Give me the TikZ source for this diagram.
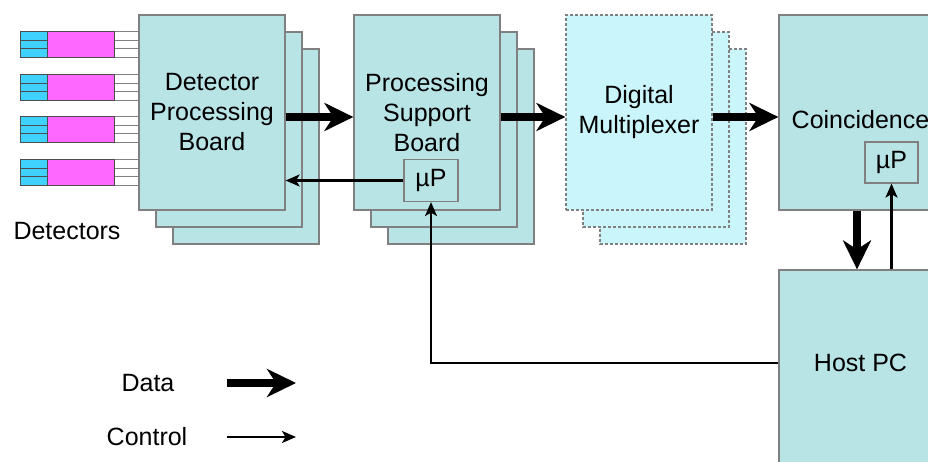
\documentclass[tikz,border=0pt]{standalone}
\usepackage{fontspec}
\setmainfont{Liberation Sans}
\usetikzlibrary{arrows.meta}

\definecolor{boardfill}{RGB}{185,228,230}
\definecolor{muxfill}{RGB}{202,245,250}
\definecolor{edgegray}{RGB}{128,128,128}
\definecolor{scintblue}{RGB}{64,210,255}
\definecolor{pmtpink}{RGB}{255,104,255}

\tikzset{
  boardshape/.style={draw=edgegray, line width=1.2pt, fill=boardfill},
  muxshape/.style={draw=edgegray, line width=1.2pt, fill=muxfill, dash pattern=on 3pt off 2pt},
  board/.style={boardshape, minimum width=146pt, minimum height=195pt, align=center, inner sep=0pt},
  muxboard/.style={muxshape, minimum width=146pt, minimum height=195pt, align=center, inner sep=0pt},
  upbox/.style={draw=edgegray, line width=1.2pt, fill=boardfill, minimum width=54pt, minimum height=42pt, inner sep=0pt},
  data/.style={line width=7.5pt, -{Stealth[length=29pt,width=28pt,inset=9pt]}},
  ctrl/.style={line width=2.2pt, -{Stealth[length=14pt,width=12pt,inset=3.5pt]}},
}

\begin{document}
\begin{tikzpicture}[x=1pt, y=-1pt, font=\fontsize{25}{30}\selectfont]
  \useasboundingbox (0,0) rectangle (928,462);
  \clip (0,0) rectangle (928,462);

  % detectors
  \foreach \t in {31,74,116,159} {
    \draw[edgegray, line width=0.9pt, fill=white] (114,\t) rectangle (139,\t+26);
    \draw[edgegray, line width=0.9pt] (114,\t+9) -- (139,\t+9) (114,\t+17) -- (139,\t+17);
    \draw[edgegray!60!black, line width=0.9pt, fill=pmtpink] (47,\t) rectangle (114,\t+26);
    \draw[edgegray!60!black, line width=0.9pt, fill=scintblue] (20,\t) rectangle (47,\t+26);
    \draw[edgegray!60!black, line width=0.9pt] (20,\t+9) -- (47,\t+9) (20,\t+17) -- (47,\t+17);
  }
  \node (dettext) at (67,231) {Detectors};

  % stacked copies behind the boards
  \foreach \cx/\sty in {139/boardshape, 354/boardshape, 566/muxshape}
    \foreach \d in {34,17}
      \draw[\sty] (\cx+\d,15+\d) rectangle ++(146,195);

  \node[board] (dpb) at (212,112.5) {Detector\\Processing\\Board};
  \node[board] (psb) at (427,112.5) {Processing\\Support\\Board};
  \node[muxboard] (mux) at (639,112.5) {Digital\\Multiplexer};
  \node[board, minimum width=163pt] (coinc) at (860.5,112.5) {};
  \node (coinctext) at (860.5,120) {Coincidence};
  \node[board, minimum width=163pt, minimum height=220pt] (host) at (860.5,380) {};
  \node (hosttext) at (860.5,363) {Host PC};

  \node[upbox] (psbup) at (431,180.5) {µP};
  \node[upbox, minimum width=53pt, minimum height=41pt] (coincup) at (891.5,162.5) {µP};

  % data paths
  \coordinate (datarow) at (0,117);
  \coordinate (downcol) at (857,0);
  \draw[data] (dpb.east |- datarow) -- (psb.west |- datarow);
  \draw[data] (psb.east |- datarow) -- (mux.west |- datarow);
  \draw[data] (mux.east |- datarow) -- (coinc.west |- datarow);
  \draw[data] (coinc.south -| downcol) -- (host.north -| downcol);

  % control paths
  \draw[ctrl] (psbup.west) -- (dpb.east |- psbup.west);
  \draw[ctrl] (host.west |- hosttext) -| (psbup.south);
  \draw[ctrl] (host.north -| coincup.south) -- (coincup.south);

  % legend
  \node (datatext) at (148,383) {Data};
  \node (ctrltext) at (147,437) {Control};
  \coordinate (dataend) at (296,383);
  \coordinate (ctrlend) at (296,437);
  \draw[data] (datatext.east -| 227,0) -- (dataend);
  \draw[ctrl] (ctrltext.east -| 227,0) -- (ctrlend);
\end{tikzpicture}
\end{document}
